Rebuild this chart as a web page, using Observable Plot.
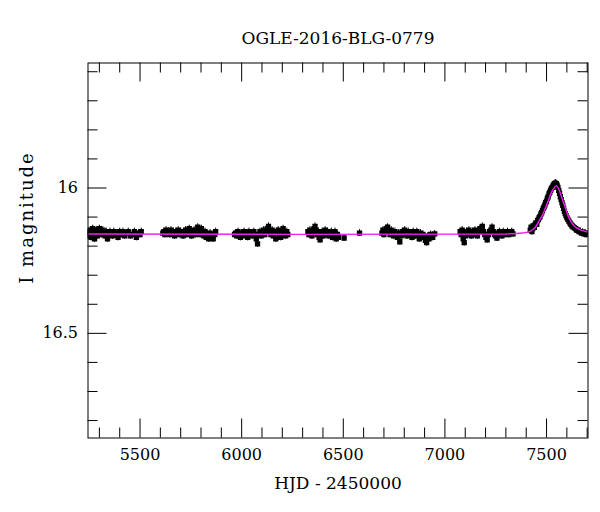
<!DOCTYPE html>
<html><head><meta charset="utf-8">
<script src="https://cdn.jsdelivr.net/npm/d3@7"></script>
<script src="https://cdn.jsdelivr.net/npm/@observablehq/plot@0.6"></script>
<style>body{margin:0;background:#fff}</style>
</head><body><div id="chart"></div>
<script>
// OGLE I-band photometry, [HJD-2450000, I mag], by observing season
const season2010 = [[5246,16.150],[5251,16.165],[5255,16.145],[5259,16.170],[5263,16.155],[5267,16.140],[5272,16.160],[5276,16.175],[5280,16.150],[5285,16.145],[5290,16.165],[5295,16.155],[5300,16.140],[5306,16.150],[5311,16.160],[5317,16.145],[5322,16.155],[5328,16.165],[5334,16.150],[5340,16.175],[5346,16.160],[5352,16.150],[5358,16.155],[5365,16.165],[5371,16.150],[5378,16.160],[5385,16.155],[5392,16.170],[5400,16.150],[5408,16.160],[5416,16.150],[5424,16.165],[5433,16.155],[5442,16.150],[5452,16.165],[5462,16.160],[5472,16.150],[5482,16.170],[5492,16.155],[5500,16.160],[5506,16.150]];
const season2011 = [[5612,16.155],[5617,16.150],[5622,16.160],[5628,16.145],[5634,16.155],[5640,16.150],[5646,16.160],[5652,16.145],[5658,16.155],[5664,16.150],[5670,16.165],[5676,16.150],[5682,16.155],[5688,16.145],[5694,16.160],[5700,16.150],[5706,16.155],[5712,16.165],[5718,16.150],[5724,16.145],[5730,16.160],[5736,16.155],[5742,16.140],[5748,16.150],[5754,16.165],[5760,16.155],[5766,16.145],[5772,16.160],[5778,16.150],[5784,16.135],[5790,16.150],[5796,16.160],[5802,16.140],[5808,16.155],[5814,16.165],[5820,16.150],[5826,16.170],[5832,16.160],[5838,16.175],[5845,16.155],[5852,16.165],[5860,16.175],[5868,16.160],[5872,16.150]];
const season2012 = [[5965,16.160],[5970,16.155],[5976,16.165],[5982,16.150],[5988,16.160],[5994,16.170],[6000,16.155],[6006,16.160],[6012,16.150],[6018,16.165],[6024,16.155],[6030,16.170],[6036,16.150],[6042,16.160],[6048,16.155],[6054,16.165],[6060,16.150],[6066,16.160],[6072,16.175],[6078,16.192],[6084,16.160],[6090,16.150],[6096,16.165],[6102,16.155],[6108,16.145],[6114,16.160],[6120,16.150],[6126,16.140],[6132,16.132],[6138,16.150],[6144,16.160],[6150,16.145],[6156,16.165],[6162,16.155],[6168,16.175],[6174,16.150],[6180,16.145],[6186,16.160],[6192,16.170],[6198,16.150],[6204,16.140],[6210,16.155],[6216,16.165],[6222,16.150],[6227,16.160]];
const season2013 = [[6326,16.150],[6331,16.160],[6336,16.145],[6341,16.155],[6346,16.165],[6351,16.150],[6356,16.140],[6361,16.132],[6366,16.145],[6371,16.160],[6376,16.150],[6381,16.170],[6386,16.178],[6391,16.160],[6396,16.150],[6401,16.165],[6406,16.155],[6411,16.145],[6417,16.160],[6423,16.150],[6429,16.165],[6435,16.155],[6441,16.150],[6447,16.170],[6453,16.160],[6459,16.150],[6465,16.175],[6471,16.160],[6476,16.170],[6504,16.172],[6580,16.155]];
const season2014 = [[6690,16.155],[6695,16.145],[6700,16.160],[6706,16.150],[6712,16.140],[6718,16.135],[6724,16.150],[6730,16.160],[6736,16.145],[6742,16.155],[6748,16.165],[6754,16.150],[6760,16.160],[6766,16.170],[6772,16.155],[6778,16.185],[6784,16.165],[6790,16.150],[6796,16.160],[6802,16.145],[6808,16.155],[6814,16.165],[6820,16.150],[6826,16.160],[6832,16.155],[6838,16.170],[6844,16.150],[6850,16.160],[6856,16.165],[6862,16.150],[6868,16.160],[6874,16.175],[6880,16.155],[6886,16.165],[6892,16.160],[6898,16.170],[6904,16.180],[6910,16.188],[6916,16.165],[6922,16.175],[6930,16.160],[6940,16.170],[6950,16.158]];
const season2015 = [[7075,16.150],[7080,16.160],[7085,16.145],[7090,16.175],[7095,16.188],[7100,16.165],[7106,16.150],[7112,16.160],[7118,16.145],[7124,16.155],[7130,16.165],[7136,16.150],[7142,16.160],[7148,16.145],[7154,16.155],[7160,16.165],[7166,16.150],[7172,16.140],[7178,16.145],[7184,16.132],[7190,16.150],[7196,16.160],[7202,16.170],[7208,16.178],[7214,16.160],[7220,16.150],[7226,16.145],[7232,16.135],[7238,16.150],[7244,16.160],[7250,16.165],[7256,16.172],[7262,16.155],[7268,16.150],[7274,16.160],[7280,16.165],[7287,16.150],[7294,16.160],[7301,16.155],[7308,16.150],[7315,16.160],[7322,16.155],[7329,16.150],[7335,16.158]];
const season2016 = [[7420,16.145],[7424,16.135],[7428,16.150],[7432,16.140],[7436,16.130],[7440,16.135],[7444,16.125],[7448,16.120],[7452,16.125],[7456,16.112],[7460,16.108],[7464,16.102],[7468,16.098],[7472,16.090],[7476,16.085],[7480,16.078],[7484,16.070],[7488,16.065],[7492,16.058],[7496,16.050],[7500,16.045],[7504,16.036],[7508,16.030],[7512,16.020],[7516,16.015],[7520,16.008],[7524,16.002],[7528,15.998],[7532,15.993],[7536,15.988],[7540,15.985],[7544,15.983],[7548,15.985],[7552,15.990],[7556,15.998],[7560,16.008],[7564,16.018],[7568,16.030],[7572,16.040],[7576,16.050],[7580,16.060],[7584,16.070],[7588,16.080],[7592,16.088],[7596,16.095],[7600,16.102],[7605,16.108],[7610,16.114],[7615,16.120],[7620,16.125],[7625,16.130],[7630,16.134],[7636,16.136],[7642,16.140],[7648,16.145],[7654,16.145],[7660,16.150],[7666,16.150],[7672,16.155],[7678,16.152],[7684,16.158],[7690,16.155],[7696,16.160],[7700,16.158]];
const magErr = 0.012;

// microlensing model curve
const modelCurve = [[5244,16.158],[7300,16.158],[7380,16.155],[7420,16.149],[7445,16.135],[7462,16.115],[7478,16.096],[7495,16.068],[7508,16.045],[7520,16.022],[7534,16.003],[7548,15.992],[7559,16.002],[7570,16.022],[7582,16.048],[7595,16.073],[7606,16.095],[7618,16.113],[7633,16.128],[7650,16.138],[7672,16.146],[7704,16.152]];

const title = "OGLE-2016-BLG-0779";
const xLabel = "HJD - 2450000";
const yLabel = "I magnitude";
const xDomain = [5244, 7704];
const yDomain = [15.57, 16.86];
const xMajorTicks = [5500, 6000, 6500, 7000, 7500];
const yMajorTicks = [16, 16.5];
const xMinorTicks = d3.range(53, 78).map(d => d * 100).filter(d => !xMajorTicks.includes(d));
const yMinorTicks = d3.range(156, 169).map(d => d / 10).filter(d => !yMajorTicks.includes(d));

const points = [season2010, season2011, season2012, season2013, season2014, season2015, season2016]
  .flat().map(([t, m]) => ({t, m}));
const model = modelCurve.map(([t, m]) => ({t, m}));

const mL = 87.5, mR = 12.5, mT = 62.5, mB = 74.5;
const W = 600, H = 512;
const fw = W - mL - mR, fh = H - mT - mB;
const minorLen = 10, majorLen = 19;
const font = "DejaVu Serif";

const chart = Plot.plot({
  width: W, height: H,
  marginLeft: mL, marginRight: mR, marginTop: mT, marginBottom: mB,
  style: {fontFamily: font, fontSize: "16px", color: "black", background: "white"},
  x: {domain: xDomain, axis: null},
  y: {domain: yDomain, reverse: true, axis: null},
  marks: [
    // ticks (inward, all four sides)
    Plot.tickX(xMinorTicks, {x: d => d, insetTop: fh - minorLen, stroke: "black"}),
    Plot.tickX(xMajorTicks, {x: d => d, insetTop: fh - majorLen, stroke: "black"}),
    Plot.tickX(xMinorTicks, {x: d => d, insetBottom: fh - minorLen, stroke: "black"}),
    Plot.tickX(xMajorTicks, {x: d => d, insetBottom: fh - majorLen, stroke: "black"}),
    Plot.tickY(yMinorTicks, {y: d => d, insetRight: fw - minorLen, stroke: "black"}),
    Plot.tickY(yMajorTicks, {y: d => d, insetRight: fw - majorLen, stroke: "black"}),
    Plot.tickY(yMinorTicks, {y: d => d, insetLeft: fw - minorLen, stroke: "black"}),
    Plot.tickY(yMajorTicks, {y: d => d, insetLeft: fw - majorLen, stroke: "black"}),
    // tick labels
    Plot.axisX({ticks: xMajorTicks, tickSize: 0, tickPadding: 11, tickFormat: d => String(d), fontSize: 16, fontFamily: font, label: null}),
    Plot.axisY({ticks: yMajorTicks, tickSize: 0, tickPadding: 10, tickFormat: d => String(d), fontSize: 16, fontFamily: font, label: null}),
    // data
    Plot.ruleX(points, {x: "t", y1: d => d.m - magErr, y2: d => d.m + magErr, stroke: "black", strokeWidth: 1, clip: true}),
    Plot.dot(points, {x: "t", y: "m", symbol: "square", r: 3, fill: "black", stroke: "none", clip: true}),
    Plot.line(model, {x: "t", y: "m", stroke: "#ee22ee", strokeWidth: 1.4, curve: "catmull-rom", clip: true}),
    Plot.frame({stroke: "black", strokeWidth: 1}),
    // titles
    Plot.text([title], {text: d => d, frameAnchor: "top", dy: -31, fontSize: 17, fontFamily: font, fill: "black"}),
    Plot.text([xLabel], {text: d => d, frameAnchor: "bottom", dy: 51, fontSize: 17, fontFamily: font, fill: "black"}),
    Plot.text([yLabel], {text: d => d, frameAnchor: "left", textAnchor: "middle", dx: -61, dy: -33, rotate: -90, fontSize: 18, fontFamily: font, fill: "black"})
  ]
});
// the y label in the reference is set a little more loosely
for (const t of chart.querySelectorAll("text")) {
  if (t.textContent === yLabel) t.style.letterSpacing = "2px";
}
document.getElementById("chart").appendChild(chart);
</script>
</body></html>
